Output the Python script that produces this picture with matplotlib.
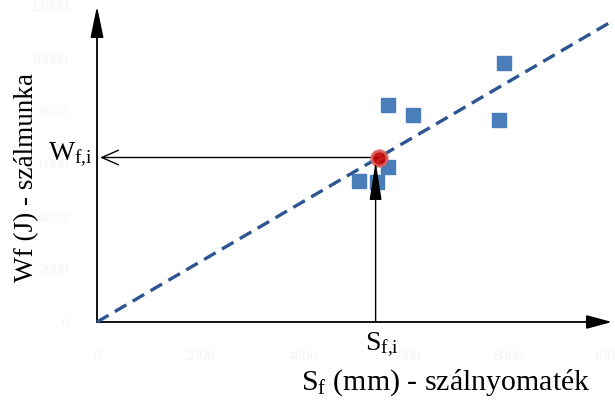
import matplotlib
matplotlib.use('Agg')
import matplotlib.pyplot as plt
import numpy as np

plt.rcParams['font.family'] = ['Liberation Serif', 'DejaVu Serif']
plt.rcParams['mathtext.fontset'] = 'custom'
plt.rcParams['mathtext.rm'] = 'Liberation Serif'

# mért pontok (szálnyomaték mm, szálmunka J)
sf_meres = [5650, 6136, 7903, 7806, 5650, 5087, 5437]
wf_meres = [8242, 7862, 9837, 7672, 5887, 5355, 5317]

# illesztett egyenes meredeksége
meredekseg = 1.142
sf_egyenes = [0, 10000]

# kiolvasott pont
sf_i = 5470
wf_i = meredekseg * sf_i

xticks = [0, 2000, 4000, 6000, 8000, 10000]
yticks = [0, 2000, 4000, 6000, 8000, 10000, 12000]

fig = plt.figure(figsize=(6.15, 4.03), dpi=100)
ax = fig.add_axes([97/615, 81/403, 515/615, 316/403])
ax.set_xlim(0, 10000)
ax.set_ylim(0, 12000)
for s in ax.spines.values():
    s.set_visible(False)

# halvány tengelyfeliratok
ax.set_xticks(xticks)
ax.set_yticks(yticks)
ax.tick_params(length=0, labelsize=11, colors='#f5f5f5', pad=20)

# tengelyek nyilakkal
ax.annotate('', xy=(10000, 0), xytext=(0, 0), annotation_clip=False,
            arrowprops=dict(arrowstyle='-|>,head_length=1.3,head_width=0.35', color='black',
                            lw=1.3, mutation_scale=12, shrinkA=0, shrinkB=0))
ax.annotate('', xy=(0, 12000), xytext=(0, 0), annotation_clip=False,
            arrowprops=dict(arrowstyle='-|>,head_length=1.6,head_width=0.33', color='black',
                            lw=1.3, mutation_scale=12, shrinkA=0, shrinkB=0))

# mért pontok
ax.plot(sf_meres, wf_meres, 's', color='#4a7ebb', markersize=9.5, zorder=3)

# illesztett egyenes
sf_e = np.array(sf_egyenes)
ax.plot(sf_e, meredekseg * sf_e, '--', color='#2c5592', lw=2.4, dashes=(4, 2.2),
        clip_on=False, zorder=4)

# leolvasás nyilai
ax.annotate('', xy=(60, wf_i), xytext=(sf_i, wf_i), annotation_clip=False,
            arrowprops=dict(arrowstyle='->,head_length=0.8,head_width=0.35', color='black',
                            lw=1.0, mutation_scale=15, shrinkA=0, shrinkB=0), zorder=5)
ax.annotate('', xy=(sf_i - 60, wf_i - 150), xytext=(sf_i - 60, 0), annotation_clip=False,
            arrowprops=dict(arrowstyle='-|>,head_length=1.6,head_width=0.25', color='black',
                            lw=1.0, mutation_scale=15, shrinkA=0, shrinkB=0), zorder=6)

ax.plot([sf_i], [wf_i], 'o', color='#c00000', markersize=11,
        markeredgecolor='#e06060', markeredgewidth=2.2, alpha=0.9, zorder=5)

# feliratok
fig.text(70/615, 1 - 155/403, r'$\mathregular{W_{f{,}i}}$', fontsize=20, ha='center', va='center')
fig.text(382/615, 1 - 345/403, r'$\mathregular{S_{f{,}i}}$', fontsize=20, ha='center', va='center')
fig.text(446/615, 1 - 383/403, r'$\mathregular{S_f}$ (mm) - szálnyomaték', fontsize=21.5,
         ha='center', va='center')
fig.text(27/615, 1 - 178/403, 'Wf (J) - szálmunka', fontsize=19.5, rotation=90,
         ha='center', va='center')

fig.savefig('out.png', dpi=100)
